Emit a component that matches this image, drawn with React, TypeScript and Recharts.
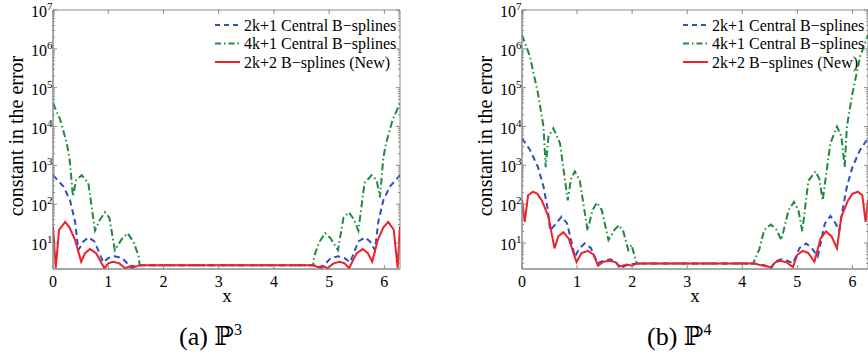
import React from 'react';
import { LineChart, Line, XAxis, YAxis, ReferenceArea, Legend } from 'recharts';

const TWO_PI = 6.2832;
const Y_MIN = 2.15;
const Y_MAX = 1e7;
const AXIS = '#8a8a8a';
const FONT = '"Liberation Serif", "Times New Roman", "DejaVu Serif", serif';

const BLUE = '#2f4fbf';
const GREEN = '#1d8a3c';
const RED = '#ee2229';

const xTicks = [0, 1, 2, 3, 4, 5, 6];
const yMajor = [10, 100, 1e3, 1e4, 1e5, 1e6, 1e7];
// log minor ticks (2..9 x 10^k)
const yMinor: number[] = [];
for (let d = 1; d < 1e7; d *= 10) {
    for (let m = 2; m <= 9; m++) {
        if (m * d >= Y_MIN) yMinor.push(m * d);
    }
}
const yTicks = [...yMinor, ...yMajor].sort((a, b) => a - b);

// ---- (a) P3 ----
const p3BlueX = [0, 0.19, 0.31, 0.4, 0.46, 0.55, 0.64, 0.75, 0.91, 1.0, 1.12, 1.25, 1.43, 1.5, 1.57, 4.71, 4.78, 4.86, 5.03, 5.16, 5.28, 5.38, 5.53, 5.65, 5.74, 5.83, 5.89, 5.98, 6.1, 6.2832];
const p3BlueY = [560, 285, 125, 35, 6.6, 11, 14, 11, 3.2, 4.1, 4.6, 4.1, 2.3, 2.6, 2.7, 2.7, 2.6, 2.3, 4.1, 4.6, 4.1, 3.2, 11, 14, 11, 6.6, 35, 125, 285, 560];

const p3GreenX = [0, 0.13, 0.25, 0.3, 0.36, 0.42, 0.52, 0.64, 0.76, 0.85, 0.94, 1.02, 1.12, 1.25, 1.35, 1.46, 1.55, 1.57, 4.71, 4.73, 4.82, 4.93, 5.03, 5.16, 5.26, 5.36, 5.45, 5.53, 5.64, 5.77, 5.86, 5.92, 5.98, 6.03, 6.15, 6.2832];
const p3GreenY = [40000, 15000, 3700, 1500, 160, 420, 560, 350, 21, 40, 62, 45, 6.6, 13, 18, 10.6, 4.6, 2.7, 2.7, 4.6, 10.6, 18, 13, 6.6, 45, 62, 40, 21, 350, 560, 420, 150, 1500, 3700, 15000, 40000];

const p3RedX = [0, 0.05, 0.11, 0.22, 0.3, 0.4, 0.51, 0.58, 0.67, 0.78, 0.93, 1.0, 1.09, 1.2, 1.31, 1.42, 1.5, 1.57, 4.71, 4.8, 4.88, 4.97, 5.08, 5.19, 5.28, 5.36, 5.5, 5.61, 5.7, 5.78, 5.88, 5.98, 6.07, 6.17, 6.24, 6.2832];
const p3RedY = [27, 2.3, 22, 35, 25, 12, 3.3, 5.5, 7, 5.5, 2.25, 3.0, 3.3, 3.0, 2.25, 2.6, 2.45, 2.7, 2.7, 2.4, 2.6, 2.25, 3.0, 3.3, 3.0, 2.25, 5.5, 7, 5.5, 3.3, 12, 25, 35, 22, 2.3, 27];

// ---- (b) P4 ----
const p4BlueX = [0, 0.145, 0.29, 0.39, 0.47, 0.51, 0.62, 0.72, 0.82, 0.96, 1.05, 1.14, 1.25, 1.37, 1.48, 1.6, 1.7, 1.78, 1.9, 2.08, 4.2, 4.4, 4.52, 4.6, 4.71, 4.82, 4.92, 5.04, 5.16, 5.26, 5.37, 5.5, 5.6, 5.68, 5.76, 5.82, 5.9, 6.0, 6.14, 6.2832];
const p4BlueY = [5000, 2500, 900, 285, 70, 21, 32, 48, 32, 4.5, 7.5, 9.8, 7.5, 3.0, 3.5, 3.8, 3.4, 2.2, 2.7, 3.0, 3.0, 2.7, 2.2, 3.4, 3.8, 3.5, 3.0, 7.5, 9.8, 7.5, 4.5, 32, 50, 35, 21, 70, 285, 900, 2500, 5000];

const p4GreenX = [0, 0.145, 0.29, 0.39, 0.43, 0.48, 0.57, 0.69, 0.83, 0.89, 0.96, 1.05, 1.19, 1.28, 1.36, 1.45, 1.57, 1.68, 1.76, 1.84, 1.93, 1.99, 2.08, 4.2, 4.31, 4.4, 4.52, 4.62, 4.71, 4.84, 4.94, 5.02, 5.09, 5.2, 5.33, 5.4, 5.46, 5.6, 5.72, 5.8, 5.86, 5.9, 6.0, 6.14, 6.2832];
const p4GreenY = [2.3e6, 6.3e5, 7.1e4, 1e4, 900, 5500, 9000, 3700, 125, 450, 700, 400, 21, 70, 110, 70, 12, 22, 29, 20, 6.6, 9, 3.0, 3.0, 7, 22, 30, 22, 12, 70, 115, 70, 20, 400, 700, 450, 125, 3700, 10000, 5500, 900, 1e4, 7.1e4, 6.3e5, 2.3e6];

const p4RedX = [0, 0.05, 0.11, 0.2, 0.28, 0.36, 0.48, 0.59, 0.66, 0.75, 0.85, 0.99, 1.08, 1.2, 1.3, 1.38, 1.48, 1.6, 1.7, 1.78, 1.9, 2.0, 2.08, 4.2, 4.34, 4.52, 4.6, 4.68, 4.8, 4.92, 5.0, 5.1, 5.2, 5.31, 5.42, 5.52, 5.62, 5.72, 5.8, 5.92, 6.0, 6.1, 6.18, 6.24, 6.2832];
const p4RedY = [130, 35, 170, 210, 185, 125, 48, 7.3, 15, 19, 13, 3.2, 5.5, 6.3, 5, 2.6, 3.3, 3.5, 3.2, 2.5, 2.8, 2.6, 3.0, 3.0, 2.7, 2.4, 3.2, 3.5, 3.2, 2.4, 5, 6.3, 5.5, 3.3, 13, 20, 15, 7.3, 48, 125, 185, 210, 170, 35, 130];

const SERIES = [
    { key: 'c2', name: '2k+1 Central B\u2212splines', color: BLUE, dash: '6 4', legendDash: '5 4' },
    { key: 'c4', name: '4k+1 Central B\u2212splines', color: GREEN, dash: '7 3 1.5 3', legendDash: '6 3 1.5 3' },
    { key: 'nw', name: '2k+2 B\u2212splines (New)', color: RED, dash: undefined, legendDash: undefined },
];

const toPts = (xs: number[], ys: number[]) => xs.map((x, i) => ({ x, y: ys[i] }));

const p3Data = [toPts(p3BlueX, p3BlueY), toPts(p3GreenX, p3GreenY), toPts(p3RedX, p3RedY)];
const p4Data = [toPts(p4BlueX, p4BlueY), toPts(p4GreenX, p4GreenY), toPts(p4RedX, p4RedY)];

const CHART_W = 420;
const CHART_H = 300;
const M_TOP = 10;
const M_RIGHT = 20;
const X_AXIS_H = 31;
const PLOT_H = CHART_H - M_TOP - X_AXIS_H;

function XTick(props: any) {
    const { x, y, payload } = props;
    return (
        <g>
            <line x1={x} x2={x} y1={y} y2={y - 4} stroke={AXIS} />
            <line x1={x} x2={x} y1={y - PLOT_H} y2={y - PLOT_H + 4} stroke={AXIS} />
            <text x={x} y={y + 18} textAnchor="middle" fontSize={16} fontFamily={FONT} fill="#000">
                {payload.value}
            </text>
        </g>
    );
}

function YTick(props: any) {
    const { x, y, payload, plotW } = props;
    const v = payload.value;
    const major = yMajor.includes(v);
    const len = major ? 4 : 2;
    return (
        <g>
            <line x1={x} x2={x + len} y1={y} y2={y} stroke={AXIS} />
            <line x1={x + plotW} x2={x + plotW - len} y1={y} y2={y} stroke={AXIS} />
            {major && (
                <text x={x - 0.5} y={y + 7} textAnchor="end" fontSize={16} fontFamily={FONT} fill="#000">
                    10
                    <tspan dy={-7} fontSize={11}>{Math.round(Math.log10(v))}</tspan>
                </text>
            )}
        </g>
    );
}

function LegendBox() {
    return (
        <svg width={190} height={60} style={{ display: 'block', overflow: 'visible' }}>
            {SERIES.map((s, i) => {
                const cy = 11 + i * 18.5;
                return (
                    <g key={s.key}>
                        <line x1={0} x2={25} y1={cy} y2={cy} stroke={s.color} strokeWidth={2} strokeDasharray={s.legendDash} />
                        <text x={29} y={cy + 5.5} fontSize={16} fontFamily={FONT} fill="#000">
                            {s.name}
                        </text>
                    </g>
                );
            })}
        </svg>
    );
}

function Panel({ left, yAxisW, data }: { left: number; yAxisW: number; data: { x: number; y: number }[][] }) {
    const plotW = CHART_W - M_RIGHT - yAxisW;
    return (
        <div style={{ position: 'absolute', left, top: 0 }}>
            <LineChart width={CHART_W} height={CHART_H} margin={{ top: M_TOP, right: M_RIGHT, bottom: 0, left: 0 }}>
                <XAxis
                    type="number"
                    dataKey="x"
                    domain={[0, TWO_PI]}
                    allowDataOverflow
                    ticks={xTicks}
                    interval={0}
                    height={X_AXIS_H}
                    tickSize={0}
                    tickMargin={0}
                    axisLine={{ stroke: AXIS }}
                    tick={(p: any) => <XTick {...p} />}
                />
                <YAxis
                    type="number"
                    scale="log"
                    domain={[Y_MIN, Y_MAX]}
                    allowDataOverflow
                    ticks={yTicks}
                    interval={0}
                    width={yAxisW}
                    tickSize={0}
                    tickMargin={0}
                    axisLine={{ stroke: AXIS }}
                    tick={(p: any) => <YTick {...p} plotW={plotW} />}
                />
                <ReferenceArea x1={0} x2={TWO_PI} y1={Y_MIN} y2={Y_MAX} fill="none" fillOpacity={0} stroke={AXIS} />
                {SERIES.map((s, i) => (
                    <Line
                        key={s.key}
                        data={data[i]}
                        dataKey="y"
                        name={s.name}
                        type="linear"
                        stroke={s.color}
                        strokeWidth={2}
                        strokeDasharray={s.dash}
                        dot={false}
                        activeDot={false}
                        isAnimationActive={false}
                    />
                ))}
                <Legend
                    layout="horizontal"
                    verticalAlign="middle"
                    align="center"
                    wrapperStyle={{ position: 'absolute', left: CHART_W - M_RIGHT - 185, top: 14, width: 190, height: 60 }}
                    content={() => <LegendBox />}
                />
            </LineChart>
        </div>
    );
}

export default function App() {
    return (
        <div
            style={{
                position: 'absolute',
                left: 0,
                top: 0,
                width: 868,
                height: 360,
                overflow: 'hidden',
                background: '#fff',
            }}
        >
            <Panel left={0} yAxisW={53} data={p3Data} />
            <Panel left={468} yAxisW={54} data={p4Data} />
            <svg width={868} height={360} style={{ position: 'absolute', left: 0, top: 0, pointerEvents: 'none' }}>
                <text transform="translate(23,136) rotate(-90)" textAnchor="middle" fontSize={20} fontFamily={FONT} fill="#000">
                    constant in the error
                </text>
                <text transform="translate(492,136) rotate(-90)" textAnchor="middle" fontSize={20} fontFamily={FONT} fill="#000">
                    constant in the error
                </text>
                <text x={227} y={302} textAnchor="middle" fontSize={19} fontFamily={FONT} fill="#000">x</text>
                <text x={695} y={302} textAnchor="middle" fontSize={19} fontFamily={FONT} fill="#000">x</text>
                <text x={179} y={345} fontSize={26} fontFamily={FONT} fill="#000">
                    (a){' '}
                    <tspan fontFamily='"DejaVu Serif", "DejaVu Sans", serif'>{'\u2119'}</tspan>
                    <tspan dy={-10} fontSize={16}>3</tspan>
                </text>
                <text x={647} y={345} fontSize={26} fontFamily={FONT} fill="#000">
                    (b){' '}
                    <tspan fontFamily='"DejaVu Serif", "DejaVu Sans", serif'>{'\u2119'}</tspan>
                    <tspan dy={-10} fontSize={16}>4</tspan>
                </text>
            </svg>
        </div>
    );
}
